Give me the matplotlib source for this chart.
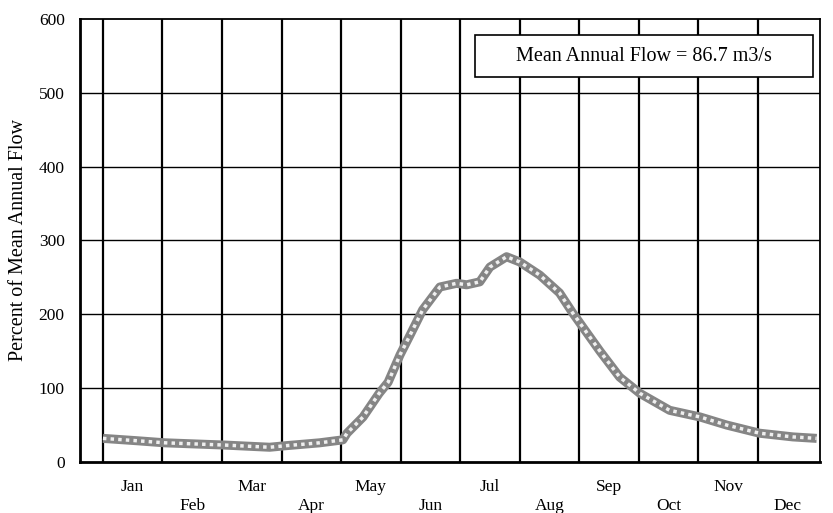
import matplotlib
matplotlib.use('Agg')
import matplotlib.pyplot as plt
from matplotlib.patches import Rectangle

plt.rcParams['font.family'] = ['Liberation Serif', 'DejaVu Serif']

# Data (x in months from Jan 1, y in % of mean annual flow)
month_pos = [0.00, 0.54, 1.04, 2.03, 2.80, 3.06, 3.64, 4.03, 4.10, 4.37, 4.64, 4.79,
             4.99, 5.16, 5.37, 5.66, 5.94, 6.11, 6.33, 6.50, 6.78, 7.00, 7.34, 7.67,
             7.89, 8.35, 8.68, 9.02, 9.52, 10.03, 10.48, 11.03, 11.59, 11.99]
pct_flow = [32, 29, 26, 23, 20, 22, 26, 30, 39, 61, 93, 108,
            145, 172, 206, 237, 242, 240, 244, 264, 278, 271, 253, 229,
            202, 150, 115, 93, 70, 61, 50, 39, 34, 32]

months = ['Jan', 'Feb', 'Mar', 'Apr', 'May', 'Jun',
          'Jul', 'Aug', 'Sep', 'Oct', 'Nov', 'Dec']
yticks = [0, 100, 200, 300, 400, 500, 600]
mean_flow_text = 'Mean Annual Flow = 86.7 m3/s'

fig = plt.figure(figsize=(8.33, 5.13), dpi=100)
ax = fig.add_axes([0.096, 0.0994, 0.888, 0.8636])

# gridlines
for yv in yticks[1:-1]:
    ax.axhline(yv, color='black', lw=1.0, zorder=1)
for m in range(12):
    ax.axvline(m, color='black', lw=1.6, zorder=1)

# checkered grey line
ax.plot(month_pos, pct_flow, color='#858585', lw=6.5, solid_capstyle='butt', zorder=3)
ax.plot(month_pos, pct_flow, color='#efefef', lw=2.5, dashes=(1, 1.2), zorder=4)

ax.set_xlim(-0.386, 12.04)
ax.set_ylim(0, 600)
ax.set_yticks(yticks)
ax.set_yticklabels([str(v) for v in yticks], fontsize=12.5)
ax.tick_params(axis='y', length=0, pad=11)

mids = [i + 0.5 for i in range(12)]
ax.set_xticks(mids[0::2])
ax.set_xticklabels(months[0::2], fontsize=12.5)
ax.set_xticks(mids[1::2], minor=True)
ax.set_xticklabels(months[1::2], minor=True, fontsize=12.5)
ax.tick_params(axis='x', which='major', length=0, pad=12)
ax.tick_params(axis='x', which='minor', length=0, pad=26)

for s in ax.spines.values():
    s.set_color('black')
    s.set_linewidth(1.3)
ax.spines['left'].set_linewidth(2)
ax.spines['bottom'].set_linewidth(2)

ax.set_ylabel('Percent of Mean Annual Flow', fontsize=14.5, labelpad=8)

ax.add_patch(Rectangle((0.534, 0.869), 0.457, 0.095, transform=ax.transAxes,
                       facecolor='white', edgecolor='black', lw=1.2, zorder=5))
ax.text(0.762, 0.916, mean_flow_text, transform=ax.transAxes, ha='center',
        va='center', fontsize=14.5, zorder=6)

fig.savefig('out.png', dpi=100)
